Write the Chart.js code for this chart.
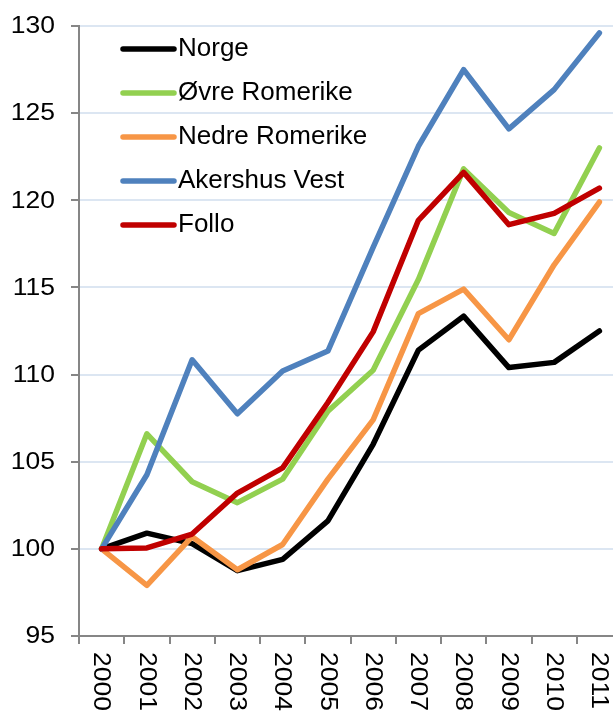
<!DOCTYPE html>
<html>
<head>
<meta charset="utf-8">
<script src="https://cdn.jsdelivr.net/npm/chart.js@4"></script>
<style>
    html, body { margin: 0; padding: 0; background: #fff; overflow: hidden; }
    #wrap { position: relative; width: 622px; height: 711px; }
</style>
</head>
<body>
<div id="wrap"><canvas id="lineChart"></canvas></div>
<script>
// Index, 2000 = 100
var years = ['2000', '2001', '2002', '2003', '2004', '2005', '2006', '2007', '2008', '2009', '2010', '2011'];
var norge = [100, 100.9, 100.3, 98.75, 99.4, 101.6, 106.0, 111.4, 113.35, 110.4, 110.7, 112.5];
var ovreRomerike = [100, 106.6, 103.85, 102.65, 104.0, 107.9, 110.25, 115.45, 121.8, 119.3, 118.1, 123.0];
var nedreRomerike = [100, 97.9, 100.7, 98.8, 100.25, 104.0, 107.4, 113.5, 114.9, 112.0, 116.3, 119.9];
var akershusVest = [100, 104.25, 110.85, 107.75, 110.2, 111.35, 117.3, 123.1, 127.5, 124.1, 126.35, 129.6];
var follo = [100, 100.05, 100.85, 103.2, 104.65, 108.4, 112.45, 118.85, 121.6, 118.6, 119.25, 120.7];

var seriesNames = ['Norge', 'Øvre Romerike', 'Nedre Romerike', 'Akershus Vest', 'Follo'];
var seriesData = [norge, ovreRomerike, nedreRomerike, akershusVest, follo];
var seriesColors = ['#000000', '#92D050', '#F79646', '#4F81BD', '#C00000'];
var yTicks = [95, 100, 105, 110, 115, 120, 125, 130];

var FAMILY = '"Liberation Sans", Arial, sans-serif';

// tick labels are drawn here: the digits in the picture are a bit wide,
// and the x labels read top-to-bottom (turned clockwise)
var tickLabels = {
    id: 'tickLabels',
    afterDraw: function (chart) {
        var ctx = chart.ctx;
        var xScale = chart.scales.x;
        var yScale = chart.scales.y;
        ctx.save();
        ctx.font = '23px ' + FAMILY;
        ctx.fillStyle = '#000';
        ctx.textBaseline = 'middle';

        ctx.textAlign = 'right';
        yTicks.forEach(function (v) {
            ctx.save();
            ctx.translate(yScale.left - 16, yScale.getPixelForValue(v) + 1);
            ctx.scale(1.15, 1);
            ctx.fillText(String(v), 0, 0);
            ctx.restore();
        });

        ctx.textAlign = 'left';
        years.forEach(function (label, i) {
            ctx.save();
            ctx.translate(xScale.getPixelForValue(i) - 1, xScale.top + 16);
            ctx.rotate(Math.PI / 2);
            ctx.scale(1.15, 1);
            ctx.fillText(label, 0, 0);
            ctx.restore();
        });
        ctx.restore();
    }
};

// legend inside the plot, top left
var innerLegend = {
    id: 'innerLegend',
    afterDatasetsDraw: function (chart) {
        var ctx = chart.ctx;
        var area = chart.chartArea;
        ctx.save();
        ctx.font = '26px ' + FAMILY;
        ctx.textAlign = 'left';
        ctx.textBaseline = 'middle';
        chart.data.datasets.forEach(function (ds, i) {
            var y = area.top + 23 + i * 44;
            ctx.strokeStyle = ds.borderColor;
            ctx.lineWidth = 5.5;
            ctx.lineCap = 'round';
            ctx.beginPath();
            ctx.moveTo(area.left + 44, y);
            ctx.lineTo(area.left + 95, y);
            ctx.stroke();
            ctx.fillStyle = '#000';
            ctx.fillText(ds.label, area.left + 99, y);
        });
        ctx.restore();
    }
};

var datasets = seriesNames.map(function (name, i) {
    return {
        label: name,
        data: seriesData[i],
        borderColor: seriesColors[i],
        backgroundColor: seriesColors[i],
        borderWidth: 5.5,
        pointRadius: 0,
        tension: 0,
        borderCapStyle: 'round',
        borderJoinStyle: 'round',
        order: seriesNames.length - 1 - i
    };
});

var ctx = document.getElementById('lineChart');
new Chart(ctx, {
    type: 'line',
    data: {
        labels: years,
        datasets: datasets
    },
    options: {
        responsive: true,
        maintainAspectRatio: false,
        animation: false,
        layout: {
            padding: { left: 71, top: 26, right: 0, bottom: 67 }
        },
        plugins: {
            legend: { display: false },
            tooltip: { enabled: false }
        },
        scales: {
            x: {
                offset: true,
                grid: {
                    offset: true,
                    drawOnChartArea: false,
                    drawTicks: true,
                    tickLength: 8,
                    tickColor: '#868686',
                    lineWidth: 2
                },
                border: { color: '#868686', width: 2 },
                ticks: { display: false, autoSkip: false }
            },
            y: {
                min: 95,
                max: 130,
                afterBuildTicks: function (scale) {
                    scale.ticks = yTicks.map(function (v) { return { value: v }; });
                },
                grid: {
                    color: '#DCE6F2',
                    lineWidth: 2,
                    drawTicks: true,
                    tickLength: 8,
                    tickColor: '#868686'
                },
                border: { color: '#868686', width: 2 },
                ticks: { display: false }
            }
        }
    },
    plugins: [tickLabels, innerLegend]
});
</script>
</body>
</html>
